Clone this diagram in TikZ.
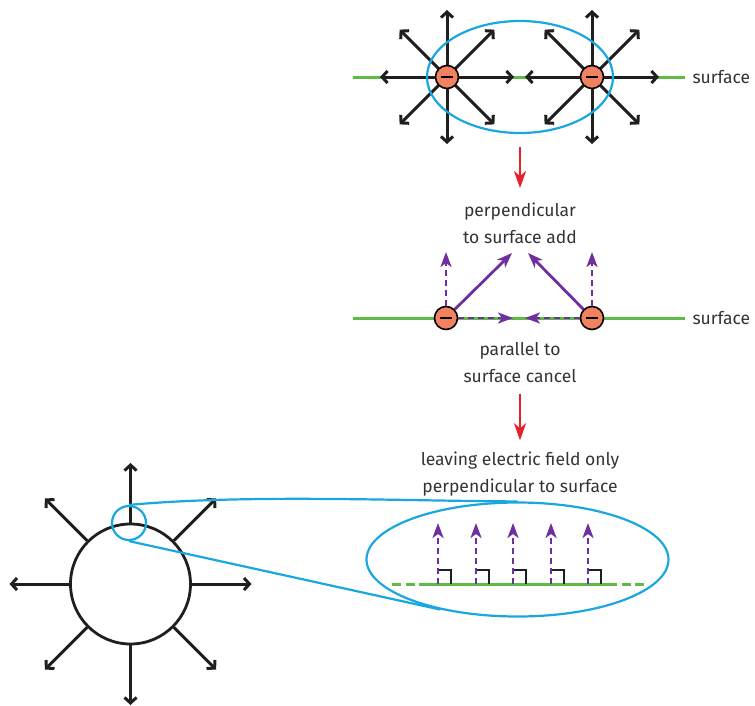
\documentclass[tikz,border=0pt]{standalone}
\usepackage{fontspec}
\setmainfont{Fira Sans}
\usetikzlibrary{arrows.meta, positioning, calc, shapes.geometric}

\definecolor{surfgreen}{HTML}{5DBB46}
\definecolor{fieldpurple}{HTML}{702F9E}
\definecolor{lensblue}{HTML}{1AA7E0}
\definecolor{chargefill}{HTML}{F2825F}
\definecolor{stepred}{HTML}{E8202A}
\definecolor{labelgray}{HTML}{333333}

\begin{document}
\begin{tikzpicture}[x=1pt, y=-1pt,
    caption/.style={text=labelgray, align=center, font=\fontsize{17.5}{27}\selectfont},
    surfline/.style={surfgreen, line width=3pt},
    fieldline/.style={black!88, line width=3pt, -{Straight Barb[length=5.5pt, width=12pt]}},
    compline/.style={fieldpurple, line width=2.8pt, -{Stealth[length=15pt, width=11pt, inset=4pt]}},
    compdash/.style={compline, dash pattern=on 6pt off 4pt},
    charge/.style={circle, draw, line width=1.6pt, fill=chargefill, minimum size=23pt, inner sep=0pt},
    lens/.style={lensblue, line width=2.2pt},
    stepdown/.style={stepred, line width=2.6pt, -{Stealth[length=17pt, width=12pt, inset=5pt]}},
    rightmark/.style={black!88, line width=1.8pt}]
    \useasboundingbox (0,0) rectangle (755,705);

    \coordinate (ctl) at (447,77);
    \coordinate (ctr) at (592,77);
    \coordinate (topl) at (353,77);
    \coordinate (topr) at (685,77);
    \draw[surfline] (topl) -- (topr);
    \node[caption, right=4pt of topr] (surftop) {surface};
    \foreach \a in {0,45,...,315} {
        \draw[fieldline] (ctl) -- ($(ctl)+(\a:67)$);
        \draw[fieldline] (ctr) -- ($(ctr)+(\a:67)$);
    }
    \node[lens, draw, ellipse, minimum width=186pt, minimum height=112pt, inner sep=0pt] (pairlens) at (520,77) {};
    \node[charge] (qtl) at (ctl) {\rule[-0.6pt]{12pt}{1.2pt}};
    \node[charge] (qtr) at (ctr) {\rule[-0.6pt]{12pt}{1.2pt}};

    \node[caption] (addtxt) at (520,223) {perpendicular\\to surface add};

    \coordinate (midl) at (353,318);
    \coordinate (midr) at (685,318);
    \draw[surfline] (midl) -- (midr);
    \node[caption, right=4pt of midr] (surfmid) {surface};
    \node[charge] (qml) at (446,318) {\rule[-0.6pt]{12pt}{1.2pt}};
    \node[charge] (qmr) at (592,318) {\rule[-0.6pt]{12pt}{1.2pt}};
    \coordinate (addl) at (512,253);
    \coordinate (addr) at (528,253);
    \coordinate (parl) at (513,318);
    \coordinate (parr) at (525,318);
    \coordinate (upl) at (446,252);
    \coordinate (upr) at (592,252);
    \draw[compdash] (qml) -- (parl);
    \draw[compdash] (qmr) -- (parr);
    \draw[compdash] (qml) -- (upl);
    \draw[compdash] (qmr) -- (upr);
    \draw[compline] (qml) -- (addl);
    \draw[compline] (qmr) -- (addr);

    \node[caption] (cancltxt) at (520,363) {parallel to\\surface cancel};
    \node[caption] (onlytxt) at (520,474) {leaving electric field only\\perpendicular to surface};

    \draw[stepdown, shorten <=13pt, shorten >=11pt] (pairlens) -- (addtxt);
    \draw[stepdown, shorten <=7pt, shorten >=8pt] (cancltxt) -- (onlytxt);

    \node[draw, black!88, circle, line width=2.8pt, minimum size=120pt, inner sep=0pt] (ball) at (130.5,584) {};
    \foreach \a in {0,45,...,315}
        \draw[fieldline] (ball) -- ($(ball)+(\a:121)$);
    \node[lens, draw, circle, minimum size=34pt, inner sep=0pt] (spot) at (129,523) {};
    \node[lens, draw, ellipse, minimum width=302pt, minimum height=114pt, inner sep=0pt] (zoomlens) at (517.5,559.5) {};
    \draw[lens] (spot.north) .. controls (250,494) and (400,501) .. (zoomlens.north);
    \draw[lens] (spot.south) -- (zoomlens.213);

    \draw[surfline, dash pattern=on 9pt off 4.5pt] (392,584) -- (647,584);
    \draw[surfline] (427,584) -- (612,584);
    \foreach \x in {438,476,513,551,588} {
        \draw[rightmark] (\x,570) -- (\x+13,570) -- (\x+13,584);
        \draw[compdash] (\x,584) -- (\x,523);
    }
\end{tikzpicture}
\end{document}
